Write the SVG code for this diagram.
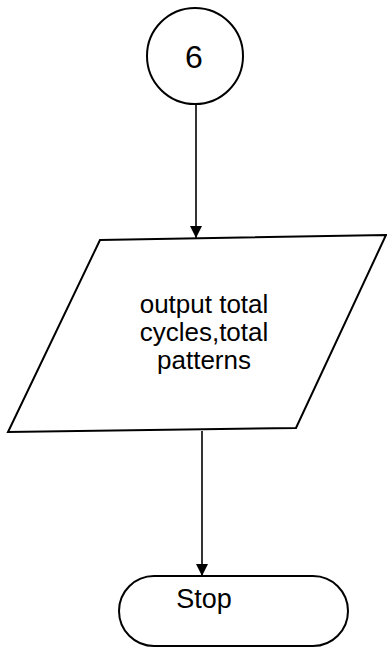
<svg xmlns="http://www.w3.org/2000/svg" width="387" height="650" viewBox="0 0 387 650">
<style>
.s{fill:#fff;stroke:#000;stroke-width:2}
.t{font-family:"Liberation Sans",Arial,sans-serif;fill:#000;text-anchor:middle}
.c{stroke:#000;stroke-width:1.6;fill:none}
</style>
<defs>
<marker id="a" markerWidth="12" markerHeight="16" refX="12" refY="7" orient="auto" markerUnits="userSpaceOnUse">
<path d="M0,1 L12,7 L0,13 Z" fill="#000"/>
</marker>
</defs>
<rect width="387" height="650" fill="#fff"/>
<g id="connectors">
<line class="c" x1="196" y1="104" x2="196" y2="238" marker-end="url(#a)"/>
<line class="c" x1="202" y1="431" x2="202" y2="576" marker-end="url(#a)"/>
</g>
<g id="n6">
<circle class="s" cx="195" cy="56" r="48"/>
<text class="t" x="194" y="68" font-size="32">6</text>
</g>
<g id="output">
<path class="s" d="M100,240 L386,235 L296,428 L8,432 Z"/>
<text class="t" font-size="26"><tspan x="204" y="313">output total</tspan><tspan x="204" y="341">cycles,total</tspan><tspan x="204" y="369">patterns</tspan></text>
</g>
<g id="stop">
<rect class="s" x="119" y="576" width="229" height="70" rx="35" ry="35"/>
<text class="t" x="204" y="608" font-size="27">Stop</text>
</g>
</svg>
